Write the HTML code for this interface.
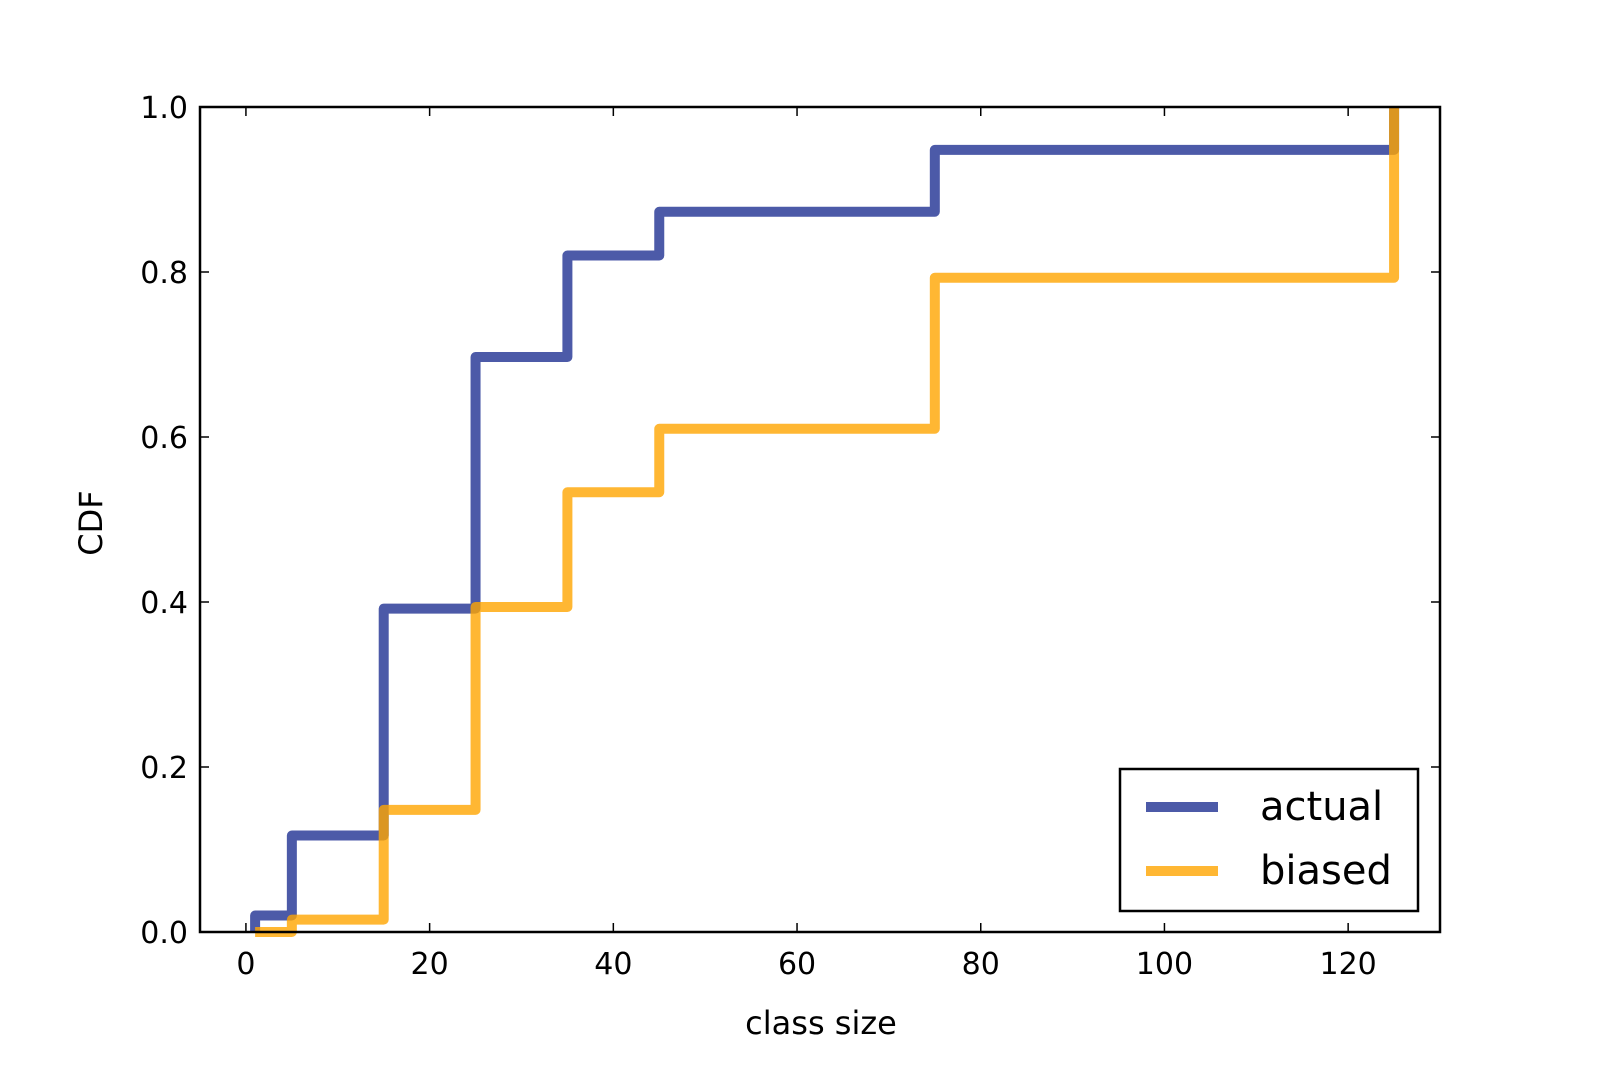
<!DOCTYPE html>
<html><head><meta charset="utf-8"><style>body{margin:0;background:#fff}svg{display:block}text{font-family:"DejaVu Sans","Liberation Sans",sans-serif;fill:#000}</style></head>
<body>
<svg id="chart" width="1600" height="1067" viewBox="0 0 1600 1067" xmlns="http://www.w3.org/2000/svg">
<g id="marks"></g>
<g id="axes"></g>
</svg>
<script>
const xTicks=[0,20,40,60,80,100,120];
const yTicks=[0,0.2,0.4,0.6,0.8,1.0];
const yTickLabels=["0.0","0.2","0.4","0.6","0.8","1.0"];
const actualX=[1,5,15,25,35,45,75,125];
const actualY=[0.02,0.117,0.392,0.697,0.82,0.873,0.948,1.0];
const biasedX=[1,5,15,25,35,45,75,125];
const biasedY=[0.0,0.015,0.148,0.394,0.533,0.61,0.793,1.0];
const L=200,R=1440,T=107,B=932,xmin=-5,xmax=130;
const sx=v=>L+(v-xmin)/(xmax-xmin)*(R-L);
const sy=v=>B-v*(B-T);
const NS='http://www.w3.org/2000/svg';
const marks=document.getElementById('marks'),axes=document.getElementById('axes');
function mk(tag,attrs,parent){const e=document.createElementNS(NS,tag);for(const k in attrs)e.setAttribute(k,attrs[k]);parent.appendChild(e);return e;}
function stepPath(xs,ys){let d='M'+sx(xs[0])+','+sy(0);for(let i=0;i<xs.length;i++){d+=' L'+sx(xs[i])+','+sy(i?ys[i-1]:0)+' L'+sx(xs[i])+','+sy(ys[i]);if(i<xs.length-1)d+=' L'+sx(xs[i+1])+','+sy(ys[i]);}return d;}
const p1=mk('path',{d:stepPath(actualX,actualY),fill:'none',stroke:'#4c5aa8','stroke-width':10,'stroke-linejoin':'round'},marks);


const p2=mk('path',{d:stepPath(biasedX,biasedY),fill:'none',stroke:'#ffa500','stroke-opacity':0.8,'stroke-width':10,'stroke-linejoin':'round'},marks);


const frame=mk('rect',{x:L,y:T,width:R-L,height:B-T,fill:'none',stroke:'#000','stroke-width':2.5},axes);


xTicks.forEach(v=>{const x=sx(v);
mk('line',{x1:x,x2:x,y1:B,y2:B-9,stroke:'#000','stroke-width':1.5},axes);
mk('line',{x1:x,x2:x,y1:T,y2:T+9,stroke:'#000','stroke-width':1.5},axes);
const t=mk('text',{x:x,y:B+42,'font-size':30,'text-anchor':'middle'},axes);t.textContent=v;

});
yTicks.forEach((v,i)=>{const y=sy(v);
mk('line',{x1:L,x2:L+9,y1:y,y2:y,stroke:'#000','stroke-width':1.5},axes);
mk('line',{x1:R,x2:R-9,y1:y,y2:y,stroke:'#000','stroke-width':1.5},axes);
const t=mk('text',{x:188,y:y+11,'font-size':30,'text-anchor':'end'},axes);t.textContent=yTickLabels[i];

});
const xl=mk('text',{x:821,y:1034,'font-size':32,'text-anchor':'middle'},axes);xl.textContent='class size';


const yl=mk('text',{x:0,y:0,'font-size':32,'text-anchor':'middle',transform:'translate(102,523) rotate(-90)'},axes);yl.textContent='CDF';


const lg=mk('g',{},axes);


mk('rect',{x:1120,y:769,width:298,height:142,fill:'#fff',stroke:'#000','stroke-width':2.5},lg);
mk('line',{x1:1146,x2:1218,y1:807,y2:807,stroke:'#4c5aa8','stroke-width':10},lg);
mk('line',{x1:1146,x2:1218,y1:871,y2:871,stroke:'#ffa500','stroke-opacity':0.8,'stroke-width':10},lg);
const a=mk('text',{x:1260,y:820,'font-size':40},lg);a.textContent='actual';


const b=mk('text',{x:1260,y:884,'font-size':40},lg);b.textContent='biased';


</script>
</body></html>
